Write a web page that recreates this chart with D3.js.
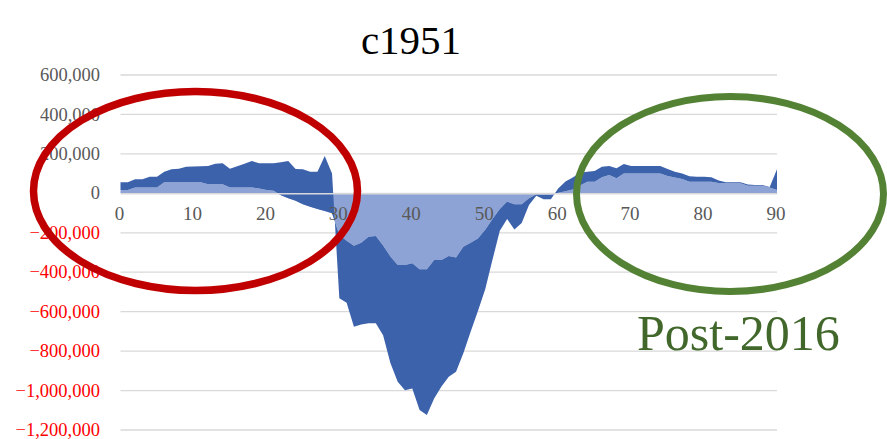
<!DOCTYPE html>
<html>
<head>
<meta charset="utf-8">
<script src="https://cdn.jsdelivr.net/npm/d3@7"></script>
<style>
  html, body { margin: 0; padding: 0; background: #fff; }
  svg { display: block; }
  text { font-family: "Liberation Serif", "Times New Roman", serif; }
</style>
</head>
<body>
<svg id="chart" width="887" height="439"></svg>
<script>
// Age (years) along the horizontal axis
const ages = d3.range(0, 91);

// Lower series (drawn first, light fill)
const lowerSeries = [
  17000, 17000, 30000, 30000, 30000, 30000, 56000, 56000, 56000, 56000,
  56000, 56000, 46000, 46000, 46000, 30000, 30000, 30000, 30000, 25000,
  17000, 13000, -10000, -25000, -38000, -55000, -68000, -80000, -90000, -101000,
  -211000, -240000, -266000, -250000, -220000, -216000, -265000, -320000, -364000, -364000,
  -355000, -385000, -385000, -338000, -338000, -318000, -325000, -271000, -250000, -229000,
  -185000, -130000, -80000, -42000, -55000, -55000, -25000, -5000, -8000, -8000,
  3000, 10000, 20000, 40000, 59000, 59000, 81000, 93000, 76000, 101000,
  101000, 101000, 101000, 101000, 101000, 88000, 80000, 73000, 59000, 59000,
  59000, 59000, 53000, 51000, 51000, 51000, 39000, 39000, 39000, 30000,
  17000
];

// Upper series, stacked on the lower one (dark fill)
const upperSeries = [
  39000, 39000, 41000, 41000, 54000, 54000, 54000, 66000, 69000, 79000,
  80000, 81000, 92000, 104000, 106000, 95000, 107000, 120000, 134000, 127000,
  135000, 139000, 168000, 189000, 161000, 177000, 178000, 190000, 279000, 202000,
  -321000, -315000, -410000, -415000, -439000, -443000, -455000, -540000, -591000, -634000,
  -634000, -714000, -739000, -702000, -642000, -612000, -580000, -540000, -452000, -368000,
  -301000, -206000, -110000, -88000, -128000, -95000, -34000, -7000, -22000, -22000,
  22000, 50000, 60000, 65000, 51000, 54000, 54000, 45000, 51000, 48000,
  37000, 37000, 37000, 37000, 37000, 35000, 30000, 28000, 27000, 25000,
  25000, 22000, 12000, 5000, 5000, 5000, 6000, 3000, 3000, 2000,
  105000
];

const yTicks = [600000, 400000, 200000, 0, -200000, -400000, -600000, -800000, -1000000, -1200000];
const xTicks = [0, 10, 20, 30, 40, 50, 60, 70, 80, 90];

const titleText = "c1951";
const noteText = "Post-2016";

const colors = { lower: "#8EA3D5", upper: "#3C62AC" };

const svg = d3.select("#chart");

const x = d3.scaleLinear().domain([0, 90]).range([120.5, 777]);
const y = d3.scaleLinear().domain([-1200000, 600000]).range([430, 75]);

// Horizontal gridlines
svg.append("g")
  .selectAll("line")
  .data(yTicks)
  .join("line")
  .attr("x1", x(0))
  .attr("x2", x(90))
  .attr("y1", d => y(d))
  .attr("y2", d => y(d))
  .attr("stroke", "#D9D9D9")
  .attr("stroke-width", 1.3);

// Stacked areas (zero-offset stacking, so signs accumulate in order)
const rows = ages.map((a, i) => ({ age: a, lower: lowerSeries[i], upper: upperSeries[i] }));
const stacked = d3.stack()
  .keys(["lower", "upper"])
  .offset(d3.stackOffsetNone)
  .order(d3.stackOrderNone)(rows);

const area = d3.area()
  .x(d => x(d.data.age))
  .y0(d => y(d[0]))
  .y1(d => y(d[1]))
  .curve(d3.curveLinear);

svg.append("g")
  .selectAll("path")
  .data(stacked)
  .join("path")
  .attr("d", area)
  .attr("fill", d => colors[d.key]);

// Horizontal axis line at zero
const xAxis = d3.axisBottom(x).tickValues(xTicks).tickSize(0).tickPadding(0).tickFormat(d3.format("d"));
const gx = svg.append("g").attr("transform", `translate(0,${y(0)})`).call(xAxis);
gx.select(".domain").attr("stroke", "#D9D9D9").attr("stroke-width", 1.5);
gx.selectAll(".tick text")
  .attr("x", -1.5)
  .attr("y", 27)
  .attr("dy", 0)
  .attr("fill", "#595959")
  .style("font-family", '"Liberation Serif", serif')
  .style("font-size", "19px");

// Vertical axis labels (negative values in red)
const yAxis = d3.axisLeft(y).tickValues(yTicks).tickSize(0).tickPadding(0).tickFormat(d3.format(","));
const gy = svg.append("g").attr("transform", "translate(100,0)").call(yAxis);
gy.select(".domain").remove();
gy.selectAll(".tick text")
  .attr("x", 0)
  .attr("dy", "0.3em")
  .attr("fill", d => d < 0 ? "#FF0000" : "#595959")
  .style("font-family", '"Liberation Serif", serif')
  .style("font-size", "18.5px");

// Title
svg.append("text")
  .attr("x", 411)
  .attr("y", 54)
  .attr("text-anchor", "middle")
  .attr("fill", "#000")
  .style("font-size", "41px")
  .text(titleText);

// Highlight ellipses
svg.append("ellipse")
  .attr("cx", 195.5).attr("cy", 191)
  .attr("rx", 162).attr("ry", 99.5)
  .attr("fill", "none")
  .attr("stroke", "#C00000")
  .attr("stroke-width", 7.5);

svg.append("ellipse")
  .attr("cx", 730).attr("cy", 194)
  .attr("rx", 153.5).attr("ry", 97.5)
  .attr("fill", "none")
  .attr("stroke", "#548235")
  .attr("stroke-width", 7);

// Annotation
svg.append("text")
  .attr("x", 637)
  .attr("y", 350)
  .attr("fill", "#41672B")
  .style("font-size", "50px")
  .text(noteText);
</script>
</body>
</html>
